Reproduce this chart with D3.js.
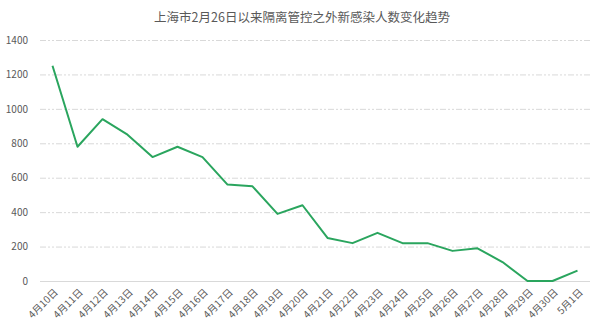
<!DOCTYPE html>
<html>
<head>
<meta charset="utf-8">
<script src="https://cdn.jsdelivr.net/npm/d3@7"></script>
<style>
body { margin: 0; background: #fff; }
svg { display: block; }
</style>
</head>
<body>
<div class="chart"></div>
<script>
var dates = ["4月10日", "4月11日", "4月12日", "4月13日", "4月14日", "4月15日", "4月16日", "4月17日",
    "4月18日", "4月19日", "4月20日", "4月21日", "4月22日", "4月23日", "4月24日", "4月25日",
    "4月26日", "4月27日", "4月28日", "4月29日", "4月30日", "5月1日"];
var cases = [1250, 780, 940, 850, 720, 780, 720, 560, 550, 390, 440, 250, 220, 280, 220, 220,
    175, 190, 110, 0, 0, 60];
var yTicks = [0, 200, 400, 600, 800, 1000, 1200, 1400];

var width = 600, height = 331;
var margin = {top: 40, right: 10, bottom: 50, left: 40};
var font = "'Noto Sans CJK SC', 'Noto Sans', sans-serif";

var svg = d3.select(".chart").append("svg")
    .attr("width", width)
    .attr("height", height)
    .style("font-family", font);

//Title.
svg.append("text")
    .attr("x", 302)
    .attr("y", 22)
    .attr("text-anchor", "middle")
    .attr("fill", "#595959")
    .style("font-size", "12.5px")
    .text("上海市2月26日以来隔离管控之外新感染人数变化趋势");

var x = d3.scaleBand().domain(dates).range([margin.left, width - margin.right]);
var y = d3.scaleLinear().domain([0, 1400]).range([height - margin.bottom, margin.top]);

//Grid lines and y labels.
var yAxis = svg.append("g")
    .attr("transform", "translate(" + margin.left + ",0)")
    .call(d3.axisLeft(y).tickValues(yTicks).tickFormat(d3.format("d"))
        .tickSize(-(width - margin.left - margin.right)).tickPadding(12));
yAxis.select(".domain").remove();
yAxis.selectAll(".tick line")
    .attr("stroke", "#d9d9d9")
    .attr("stroke-dasharray", function(d) { return d === 0 ? null : "6,2,2,2,2,2"; });
yAxis.selectAll(".tick text")
    .attr("fill", "#595959")
    .style("font-size", "10px")
    .style("font-family", font);

//X labels.
var xAxis = svg.append("g")
    .attr("transform", "translate(0," + (height - margin.bottom) + ")")
    .call(d3.axisBottom(x).tickSize(0).tickPadding(0));
xAxis.select(".domain").remove();
xAxis.selectAll(".tick text")
    .attr("fill", "#595959")
    .style("font-size", "10px")
    .style("font-family", font)
    .attr("text-anchor", "end")
    .attr("dy", null)
    .attr("transform", "translate(6,12) rotate(-45)");

//The line.
var line = d3.line()
    .x(function(d, i) { return x(dates[i]) + x.bandwidth() / 2; })
    .y(function(d) { return y(d); });

svg.append("path")
    .datum(cases)
    .attr("fill", "none")
    .attr("stroke", "#2aa55e")
    .attr("stroke-width", 2)
    .attr("stroke-linejoin", "round")
    .attr("d", line);
</script>
</body>
</html>
